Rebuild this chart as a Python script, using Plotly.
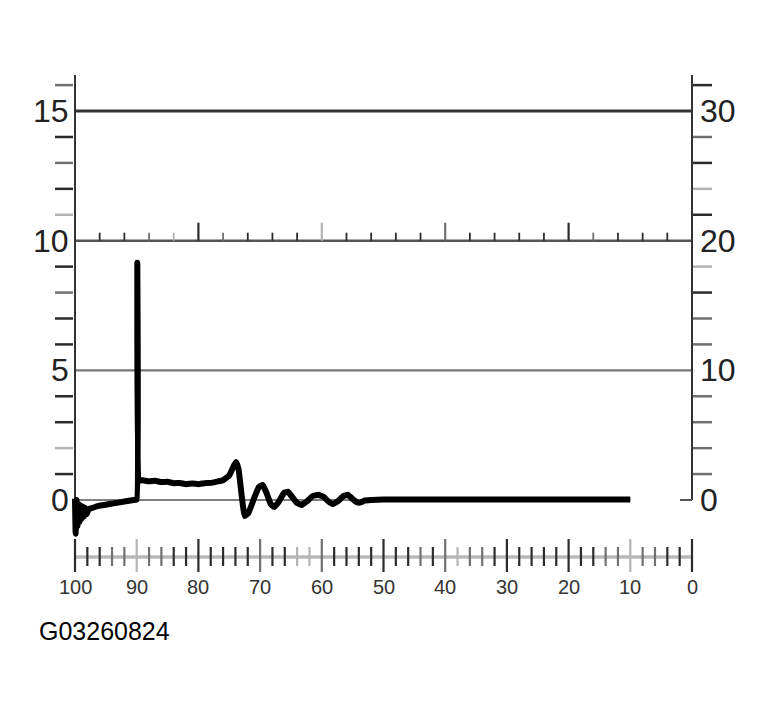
import plotly.graph_objects as go

# ---------------- data ----------------
sig_x = [100.0, 99.9, 99.75, 99.6, 99.45, 99.3, 99.15, 99.0, 98.8, 98.6, 98.4, 98.1, 97.8, 97.4,
         96.0, 94.0, 92.0, 90.5, 90.0, 89.9, 89.6,
         89.0, 88.0, 87.0, 86.0, 85.0, 84.0, 83.0, 82.0, 81.0, 80.0, 79.0, 78.0, 77.0,
         76.0, 75.0, 74.3, 73.9, 73.5, 73.0, 72.5,
         71.9, 71.0, 70.2, 69.6, 69.0, 68.3, 67.7, 67.0, 66.1, 65.5, 64.8, 64.0, 63.2,
         62.4, 61.5, 60.6, 59.7, 58.9, 58.2, 57.4, 56.5, 55.8, 55.1, 54.4, 53.8, 53.0,
         52.0, 50.0, 40.0, 30.0, 20.0, 10.0]
sig_y = [0.05, -1.3, 0.0, -1.0, -0.15, -0.85, -0.2, -0.75, -0.25, -0.65, -0.3, -0.55, -0.35, -0.32,
         -0.22, -0.14, -0.06, 0.0, 0.02, 9.15, 0.76,
         0.76, 0.72, 0.74, 0.69, 0.7, 0.65, 0.66, 0.61, 0.64, 0.61, 0.65, 0.66, 0.71,
         0.76, 0.95, 1.3, 1.47, 1.2, 0.2, -0.62,
         -0.5, 0.05, 0.5, 0.58, 0.3, -0.15, -0.27, -0.08, 0.28, 0.32, 0.12, -0.12, -0.19,
         -0.05, 0.15, 0.2, 0.12, -0.06, -0.15, -0.05, 0.15, 0.2, 0.06, -0.08, -0.1, -0.02,
         0.0, 0.02, 0.02, 0.02, 0.02, 0.02]

left_labels = [0, 5, 10, 15]
right_labels = [0, 10, 20, 30]
bottom_labels = [100, 90, 80, 70, 60, 50, 40, 30, 20, 10, 0]
grid_levels = [15, 10, 5, 0]
y_minor = [1, 2, 3, 4, 6, 7, 8, 9, 11, 12, 13, 14, 16]
mid_ticks = [96, 92, 88, 84, 80, 76, 72, 68, 64, 60, 56, 52, 48, 44, 40, 36, 32, 28, 24, 20, 16, 12, 8, 4]
bottom_ticks = list(range(100, -1, -2))
code_label = "G03260824"

# ---------------- styles ----------------
DARK, MID, LIGHT = "#2b2b2b", "#707070", "#b4b4b4"
shade = {"d": DARK, "m": MID, "l": LIGHT}
left_tick_shade = ["d", "l", "d", "d", "d", "d", "m", "d", "l", "d", "m", "d", "m"]
right_tick_shade = ["m", "m", "m", "m", "m", "m", "d", "l", "d", "l", "d", "m", "d"]
mid_tick_shade = ["d", "d", "m", "l", "d", "m", "d", "d", "d", "l", "d", "d", "d", "d", "m",
                  "d", "d", "d", "d", "d", "m", "d", "d", "d"]
bottom_tick_shade = ["d", "d", "d", "m", "m", "l", "m", "m", "d", "d", "d", "d", "d", "d", "d",
                     "m", "d", "d", "l", "l", "m", "d", "d", "d", "d", "d", "d", "d", "m", "d",
                     "m", "l", "m", "m", "d", "d", "d", "d", "d", "d", "d", "d", "d", "m", "m",
                     "l", "m", "m", "d", "d", "d"]

PAGE_OFF = 8          # default body margin of the html page
W, H = 772 - PAGE_OFF, 715 - PAGE_OFF
PX_X = 6.17     # pixels per x unit
PX_Y = 25.93    # pixels per y unit
X0_PX, Y0_PX = 75 - PAGE_OFF, 500 - PAGE_OFF   # pixel position of x=100 and y=0 inside the figure
x_range = [100 + X0_PX / PX_X, -(W - (X0_PX + 100 * PX_X)) / PX_X]
y_range = [-(H - Y0_PX) / PX_Y, Y0_PX / PX_Y]


def dx(px):
    return px / PX_X


def dy(px):
    return px / PX_Y


def ypx(page_px):
    """y value at a page pixel row"""
    return (500 - page_px) / PX_Y


fig = go.Figure()


def segs(xs0, xs1, ys0, ys1, color, width):
    xx, yy = [], []
    for a, b, c, d in zip(xs0, xs1, ys0, ys1):
        xx += [a, b, None]
        yy += [c, d, None]
    fig.add_trace(go.Scatter(x=xx, y=yy, mode="lines", line=dict(color=color, width=width),
                             hoverinfo="skip", showlegend=False, cliponaxis=False))


def grouped(positions, shades, make, width):
    for key in "ldm":
        pos = [p for p, s in zip(positions, shades) if s == key]
        if pos:
            make(pos, shade[key], width)


# gridlines
grid_style = {15: ("#333333", 3), 10: ("#555555", 2.5), 5: ("#777777", 2.2), 0: ("#808080", 2.2)}
for g in grid_levels:
    c, w = grid_style[g]
    x_end = 10 if g == 0 else 0
    segs([100], [x_end], [g], [g], c, w)

# bottom axis baseline
yb = ypx(557)
segs([100], [0], [yb], [yb], "#b8b8b8", 3.5)

# left / right axis lines
segs([100], [100], [ypx(533)], [ypx(75)], "#333333", 2)
segs([0], [0], [0], [ypx(75)], "#333333", 2)

# left ticks
grouped(y_minor, left_tick_shade,
        lambda pos, c, w: segs([100 + dx(2)] * len(pos), [100 + dx(20)] * len(pos), pos, pos, c, w), 2.5)
# right ticks
grouped(y_minor, right_tick_shade,
        lambda pos, c, w: segs([-dx(1)] * len(pos), [-dx(20)] * len(pos), pos, pos, c, w), 2.5)
# right zero tick (inside)
segs([dx(12)], [0], [0], [0], "#555555", 2)

# middle axis ticks (up from y=10)
mid_short = [t for t in mid_ticks if t % 20 != 0]
mid_short_sh = [s for t, s in zip(mid_ticks, mid_tick_shade) if t % 20 != 0]
mid_tall = [t for t in mid_ticks if t % 20 == 0]
mid_tall_sh = [s for t, s in zip(mid_ticks, mid_tick_shade) if t % 20 == 0]
grouped(mid_short, mid_short_sh,
        lambda pos, c, w: segs(pos, pos, [10] * len(pos), [10 + dy(8)] * len(pos), c, w), 1.8)
grouped(mid_tall, mid_tall_sh,
        lambda pos, c, w: segs(pos, pos, [10] * len(pos), [10 + dy(18)] * len(pos), c, w), 2.2)

# bottom ticks
b_major = [t for t in bottom_ticks if t % 10 == 0]
b_major_sh = [s for t, s in zip(bottom_ticks, bottom_tick_shade) if t % 10 == 0]
b_minor = [t for t in bottom_ticks if t % 10 != 0]
b_minor_sh = [s for t, s in zip(bottom_ticks, bottom_tick_shade) if t % 10 != 0]
grouped(b_minor, b_minor_sh,
        lambda pos, c, w: segs(pos, pos, [ypx(547)] * len(pos), [ypx(566)] * len(pos), c, w), 2.2)
grouped(b_major, b_major_sh,
        lambda pos, c, w: segs(pos, pos, [ypx(539)] * len(pos), [ypx(572)] * len(pos), c, w), 2.2)

# signal
fig.add_trace(go.Scatter(x=sig_x, y=sig_y, mode="lines",
                         line=dict(color="#000000", width=6, shape="spline", smoothing=0.3),
                         hoverinfo="skip", showlegend=False, cliponaxis=False))

FONT = "Liberation Sans, Arial, sans-serif"
ann = []
for v in left_labels:
    ann.append(dict(x=100 + dx(4), y=v, xref="x", yref="y", text=str(v), showarrow=False,
                    xanchor="right", yanchor="middle", font=dict(family=FONT, size=32, color="#222")))
for v in right_labels:
    ann.append(dict(x=-dx(6), y=v / 2, xref="x", yref="y", text=str(v), showarrow=False,
                    xanchor="left", yanchor="middle", font=dict(family=FONT, size=32, color="#222")))
for v in bottom_labels:
    ann.append(dict(x=v, y=ypx(587), xref="x", yref="y", text=str(v), showarrow=False,
                    xanchor="center", yanchor="middle", font=dict(family=FONT, size=20, color="#333")))
ann.append(dict(x=100 + dx(38), y=ypx(631), xref="x", yref="y", text=code_label,
                showarrow=False, xanchor="left", yanchor="middle",
                font=dict(family=FONT, size=25, color="#000")))

fig.update_layout(
    width=W, height=H,
    margin=dict(l=0, r=0, t=0, b=0, autoexpand=False),
    paper_bgcolor="white", plot_bgcolor="white",
    xaxis=dict(range=x_range, visible=False, fixedrange=True),
    yaxis=dict(range=y_range, visible=False, fixedrange=True),
    annotations=ann,
    showlegend=False,
)

fig.write_html("out.html")
